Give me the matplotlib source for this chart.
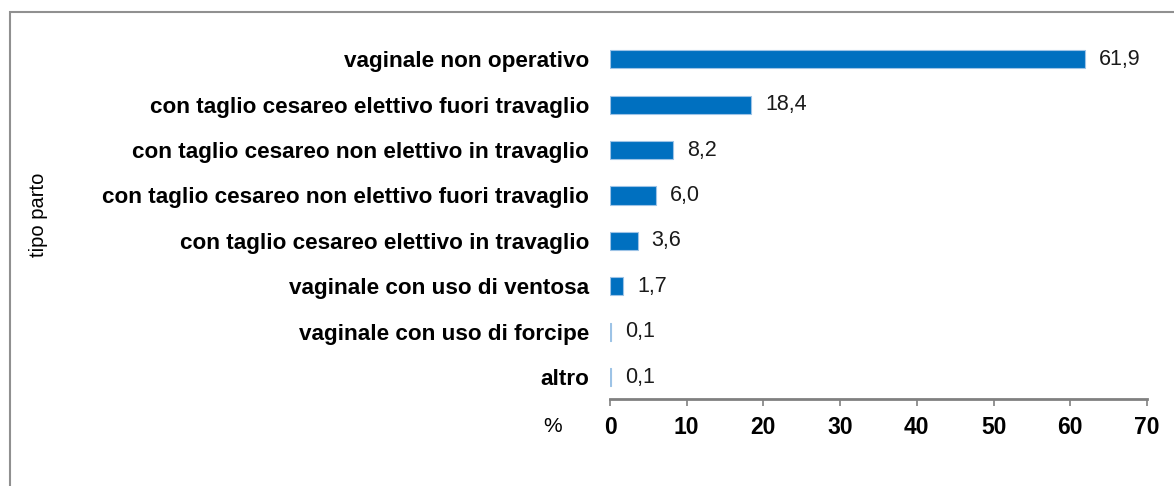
import matplotlib.pyplot as plt
import matplotlib.patches as mpatches

categories = [
    "vaginale non operativo",
    "con taglio cesareo elettivo fuori travaglio",
    "con taglio cesareo non elettivo in travaglio",
    "con taglio cesareo non elettivo fuori travaglio",
    "con taglio cesareo elettivo in travaglio",
    "vaginale con uso di ventosa",
    "vaginale con uso di forcipe",
    "altro",
]
values = [61.9, 18.4, 8.2, 6.0, 3.6, 1.7, 0.1, 0.1]
value_labels = ["61,9", "18,4", "8,2", "6,0", "3,6", "1,7", "0,1", "0,1"]
xticks = [0, 10, 20, 30, 40, 50, 60, 70]

plt.rcParams["font.family"] = ["Liberation Sans", "DejaVu Sans"]

fig = plt.figure(figsize=(11.74, 4.86), dpi=100)
ax = fig.add_axes([0.5196, 0.179, 0.4574, 0.746])

pos = list(range(len(categories)))
ax.barh(pos, values, height=0.4, color="#0070C0", edgecolor="#9DC3E6", linewidth=0.8)

for p, v, lab in zip(pos, values, value_labels):
    ax.annotate(lab, xy=(v, p), xytext=(10, 0), textcoords="offset points",
                va="center", ha="left", fontsize=15.5, color="#1a1a1a")

ax.set_ylim(len(categories) - 0.52, -0.5)
ax.set_xlim(0, 70)
ax.set_xticks(xticks)
ax.set_xticklabels([str(t) for t in xticks], fontsize=16.5, fontweight="bold")
ax.set_yticks(pos)
ax.set_yticklabels(categories, fontsize=16.2, fontweight="bold")
ax.tick_params(axis="y", length=0, pad=15)
ax.tick_params(axis="x", length=5, width=1.2, color="#808080", pad=7)

for s in ["top", "right", "left"]:
    ax.spines[s].set_visible(False)
ax.spines["bottom"].set_color("#808080")
ax.spines["bottom"].set_linewidth(2)

fig.text(553 / 1174, 1 - 426 / 486, "%", fontsize=15, ha="center", va="center")
fig.text(38 / 1174, 1 - 215 / 486, "tipo parto", fontsize=14.5, rotation=90,
         ha="center", va="center")

# outer frame
frame = mpatches.Rectangle((10 / 1174, -0.1), 1.2, 1 - 12 / 486 + 0.1,
                           transform=fig.transFigure, fill=False,
                           edgecolor="#909090", linewidth=1.5)
fig.patches.append(frame)

fig.savefig("out.png", dpi=100)
